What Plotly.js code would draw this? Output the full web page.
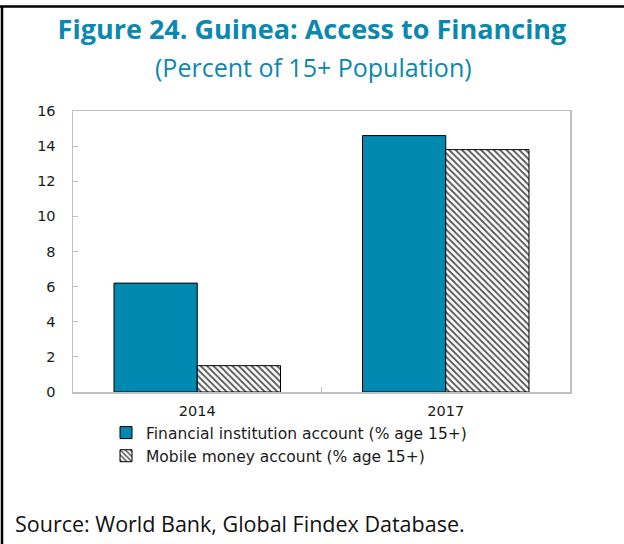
<!DOCTYPE html>
<html>
<head>
<meta charset="utf-8">
<script src="https://cdn.plot.ly/plotly-3.0.1.min.js"></script>
<style>
  html, body { margin: 0; padding: 0; background: #ffffff; }
  #chart { width: 624px; height: 544px; }
</style>
</head>
<body>
<div id="chart"></div>
<script>
// ---- Data ----
const years = ['2014', '2017'];
const financialAccount = [6.2, 14.6];
const mobileMoneyAccount = [1.5, 13.8];
const seriesNames = ['Financial institution account (% age 15+)', 'Mobile money account (% age 15+)'];
const yTicks = [0, 2, 4, 6, 8, 10, 12, 14, 16];

// ---- Layout geometry (pixels) ----
const W = 624, H = 544;
const M = { l: 73, r: 54, t: 111, b: 152 };
const PW = W - M.l - M.r, PH = H - M.t - M.b;
const px = x => (x - M.l) / PW;
const py = y => (H - M.b - y) / PH;

const teal = '#0a88b0';
const barTeal = '#0089b0';

const traces = [
  {
    type: 'bar', name: seriesNames[0], x: years, y: financialAccount,
    marker: { color: barTeal, line: { color: '#000000', width: 1 } },
    hoverinfo: 'skip'
  },
  {
    type: 'bar', name: seriesNames[1], x: years, y: mobileMoneyAccount,
    marker: {
      color: '#ffffff',
      line: { color: '#000000', width: 1 },
      pattern: { shape: '\\', fgcolor: '#555555', bgcolor: '#ffffff', size: 4.5, solidity: 0.4 }
    },
    hoverinfo: 'skip'
  }
];

const layout = {
  width: W, height: H,
  margin: M,
  paper_bgcolor: '#ffffff', plot_bgcolor: '#ffffff',
  barmode: 'group', bargap: 0.33, bargroupgap: 0,
  showlegend: true,
  title: {
    text: '<b>Figure 24. Guinea: Access to Financing</b>',
    font: { family: 'Open Sans', size: 27, color: teal },
    x: 0.5, xref: 'container', xanchor: 'center',
    y: 1 - 30 / H, yref: 'container', yanchor: 'middle'
  },
  xaxis: {
    type: 'category',
    showline: true, linecolor: '#c0c0c0', linewidth: 1.5, mirror: true,
    ticks: 'inside', tickson: 'boundaries', ticklen: 5, tickcolor: '#c0c0c0', tickwidth: 1,
    showgrid: false, zeroline: false,
    tickfont: { family: 'DejaVu Sans', size: 14.5, color: '#1a1a1a' },
    ticklabelstandoff: 5
  },
  yaxis: {
    range: [0, 16], tickvals: yTicks,
    showline: true, linecolor: '#c0c0c0', linewidth: 1.5, mirror: true,
    ticks: 'inside', ticklen: 5, tickcolor: '#c0c0c0', tickwidth: 1,
    showgrid: false, zeroline: false,
    tickfont: { family: 'DejaVu Sans', size: 14.5, color: '#1a1a1a' },
    ticklabelstandoff: 13
  },
  legend: {
    orientation: 'v',
    x: px(106), xanchor: 'left',
    y: py(416), yanchor: 'top',
    font: { family: 'DejaVu Sans', size: 15.5, color: '#1a1a1a' },
    bgcolor: 'rgba(0,0,0,0)', borderwidth: 0,
    tracegroupgap: 0, itemwidth: 30
  },
  annotations: [
    {
      text: '(Percent of 15+ Population)',
      xref: 'paper', yref: 'paper', x: px(313), y: py(67),
      xanchor: 'center', yanchor: 'middle', showarrow: false,
      font: { family: 'Open Sans', size: 25, color: teal }
    },
    {
      text: 'Source: World Bank, Global Findex Database.',
      xref: 'paper', yref: 'paper', x: px(13), y: py(523),
      xanchor: 'left', yanchor: 'middle', showarrow: false,
      font: { family: 'Open Sans', size: 21.5, color: '#111111' }
    }
  ],
  shapes: [
    { type: 'line', xref: 'paper', yref: 'paper', x0: px(0), x1: px(W), y0: py(6.5), y1: py(6.5),
      line: { color: '#000000', width: 2.5 } },
    { type: 'line', xref: 'paper', yref: 'paper', x0: px(2), x1: px(2), y0: py(6.5), y1: py(H),
      line: { color: '#000000', width: 2.5 } }
  ]
};

Plotly.newPlot('chart', traces, layout, { staticPlot: true, displayModeBar: false });
</script>
</body>
</html>
